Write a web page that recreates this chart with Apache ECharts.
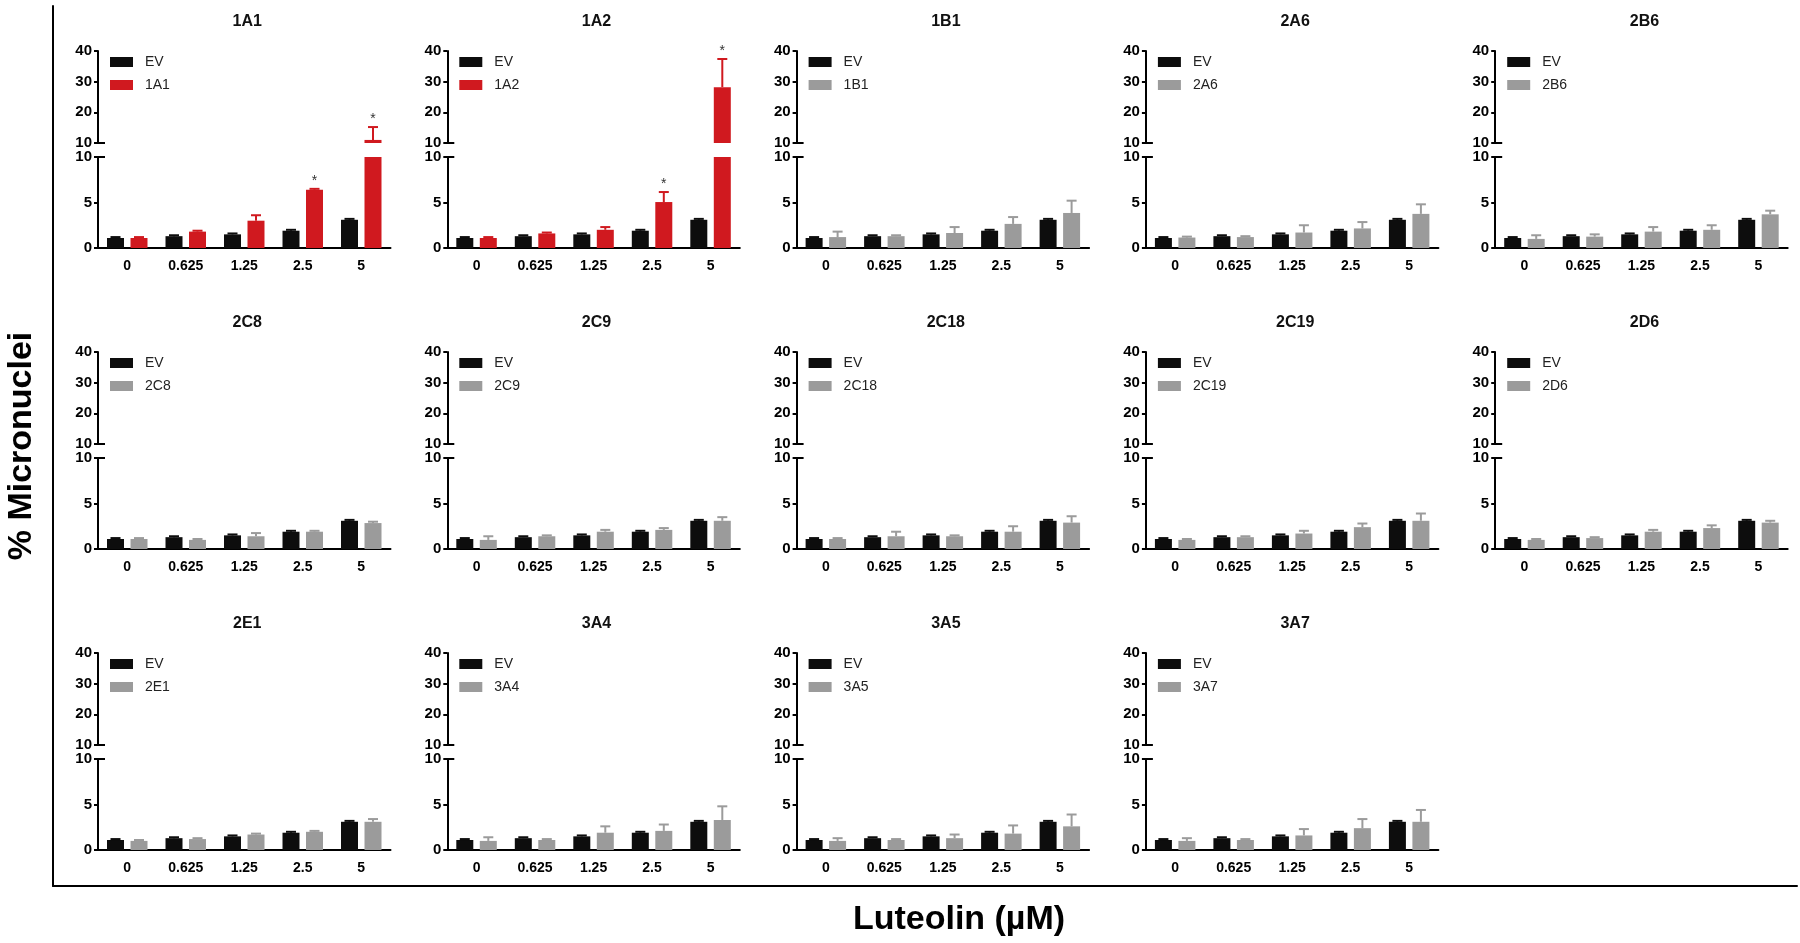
<!DOCTYPE html>
<html><head><meta charset="utf-8">
<script src="https://cdn.jsdelivr.net/npm/echarts@6/dist/echarts.min.js"></script>
<style>html,body{margin:0;padding:0;background:#fff;}#c{width:1800px;height:943px;}</style>
</head><body><div id="c"></div>
<script>
// ---------------- data ----------------
const doses = ['0', '0.625', '1.25', '2.5', '5'];
const isoforms = ['1A1','1A2','1B1','2A6','2B6','2C8','2C9','2C18','2C19','2D6','2E1','3A4','3A5','3A7'];
const lowerTicks = [0, 5, 10];
const upperTicks = [10, 20, 30, 40];

const evMean = [1.1, 1.3, 1.5, 1.9, 3.1];
const evTop  = [1.2, 1.4, 1.6, 2.0, 3.2];

const mean1A1 = [1.1, 1.8, 3.0, 6.4, 11.0];  const top1A1 = [1.2, 1.9, 3.6, 6.5, 15.2];
const mean1A2 = [1.1, 1.6, 2.0, 5.05, 28.2]; const top1A2 = [1.2, 1.7, 2.3, 6.15, 37.4];
const mean1B1 = [1.2, 1.3, 1.65, 2.65, 3.85]; const top1B1 = [1.8, 1.4, 2.3, 3.4, 5.2];
const mean2A6 = [1.15, 1.2, 1.7, 2.15, 3.75]; const top2A6 = [1.25, 1.3, 2.5, 2.85, 4.8];
const mean2B6 = [1.0, 1.25, 1.8, 2.0, 3.7];  const top2B6 = [1.4, 1.5, 2.3, 2.5, 4.1];
const mean2C8 = [1.1, 1.0, 1.4, 1.9, 2.85];  const top2C8 = [1.2, 1.1, 1.75, 2.0, 3.0];
const mean2C9 = [1.0, 1.4, 1.9, 2.1, 3.1];   const top2C9 = [1.4, 1.5, 2.1, 2.3, 3.5];
const mean2C18 = [1.1, 1.4, 1.4, 1.9, 2.9];  const top2C18 = [1.2, 1.9, 1.5, 2.5, 3.6];
const mean2C19 = [1.0, 1.3, 1.7, 2.4, 3.1];  const top2C19 = [1.1, 1.4, 2.0, 2.8, 3.9];
const mean2D6 = [1.0, 1.2, 1.9, 2.3, 2.9];   const top2D6 = [1.1, 1.3, 2.1, 2.6, 3.1];
const mean2E1 = [1.0, 1.2, 1.7, 2.0, 3.1];   const top2E1 = [1.1, 1.3, 1.8, 2.1, 3.4];
const mean3A4 = [1.0, 1.1, 1.9, 2.1, 3.3];   const top3A4 = [1.4, 1.2, 2.6, 2.8, 4.8];
const mean3A5 = [1.0, 1.1, 1.3, 1.8, 2.6];   const top3A5 = [1.3, 1.2, 1.7, 2.7, 3.9];
const mean3A7 = [1.0, 1.1, 1.6, 2.4, 3.1];   const top3A7 = [1.3, 1.2, 2.3, 3.4, 4.4];

const sig1A1 = [0, 0, 0, 1, 1];
const sig1A2 = [0, 0, 0, 1, 1];
const noSig  = [0, 0, 0, 0, 0];

// ---------------- assembly ----------------
const treat = {
  '1A1': [mean1A1, top1A1, sig1A1], '1A2': [mean1A2, top1A2, sig1A2],
  '1B1': [mean1B1, top1B1, noSig], '2A6': [mean2A6, top2A6, noSig], '2B6': [mean2B6, top2B6, noSig],
  '2C8': [mean2C8, top2C8, noSig], '2C9': [mean2C9, top2C9, noSig], '2C18': [mean2C18, top2C18, noSig],
  '2C19': [mean2C19, top2C19, noSig], '2D6': [mean2D6, top2D6, noSig], '2E1': [mean2E1, top2E1, noSig],
  '3A4': [mean3A4, top3A4, noSig], '3A5': [mean3A5, top3A5, noSig], '3A7': [mean3A7, top3A7, noSig]
};
const RED = '#d0191f', GRAY = '#9b9b9b', BLACK = '#0d0d0d';
const FONT = 'Liberation Sans, Arial, Helvetica, sans-serif';
const BAR_W = 17, BAR_GAP_PX = 6.5, SHIFT = (BAR_W + BAR_GAP_PX) / 2;
const AX0 = 98, COL = 349.3, ROW = 301, AXW = 292.5;
const UP_TOP = 51, UP_H = 92, LO_TOP = 157, LO_H = 91, BREAK = 10;

const grid = [{ left: 53, top: 6, right: 3, bottom: 57, outerBoundsMode: 'none', containLabel: false }];
const xAxis = [{
  gridIndex: 0, type: 'value', min: 0, max: 1, position: 'bottom',
  axisLine: { show: true, onZero: false, lineStyle: { color: '#000', width: 2 } },
  axisTick: { show: false }, axisLabel: { show: false }, splitLine: { show: false }
}];
const yAxis = [{
  gridIndex: 0, type: 'value', min: 0, max: 1, position: 'left',
  axisLine: { show: true, onZero: false, lineStyle: { color: '#000', width: 2 } },
  axisTick: { show: false }, axisLabel: { show: false }, splitLine: { show: false },
  name: '% Micronuclei', nameLocation: 'middle', nameGap: 14,
  nameTextStyle: { fontSize: 34, fontWeight: 'bold', color: '#000', fontFamily: FONT }
}];
const series = [], legend = [];
const title = [{
  text: 'Luteolin (\u00b5M)', left: 959, top: 903, textAlign: 'center', padding: 0,
  textStyle: { fontSize: 34, fontWeight: 'bold', color: '#000', fontFamily: FONT }
}];

function errRender(sign, color, zone) {
  return function (params, api) {
    const idx = api.value(0), mean = api.value(1), top = api.value(2), sig = api.value(3);
    const x = api.coord([idx, 0])[0] + sign * SHIFT;
    let y0, y1;
    if (zone === 'lower') {
      if (mean > BREAK) return null;
      y0 = api.coord([idx, mean])[1]; y1 = api.coord([idx, Math.min(top, BREAK)])[1];
    } else {
      if (top <= BREAK) return null;
      y0 = api.coord([idx, Math.max(mean, BREAK)])[1]; y1 = api.coord([idx, top])[1];
    }
    const st = { stroke: color, lineWidth: 2 };
    const children = [
      { type: 'line', shape: { x1: x, y1: y0, x2: x, y2: y1 }, style: st },
      { type: 'line', shape: { x1: x - 5, y1: y1, x2: x + 5, y2: y1 }, style: st }
    ];
    if (sig && (zone === 'upper' || top <= BREAK)) {
      children.push({ type: 'text', style: { text: '*', x: x, y: y1 - 8, align: 'center', verticalAlign: 'middle',
        fontSize: 14, fontFamily: FONT, fill: '#333' } });
    }
    return { type: 'group', children: children };
  };
}

isoforms.forEach(function (iso, i) {
  const col = i % 5, row = Math.floor(i / 5);
  const left = AX0 + col * COL, dy = row * ROW;
  const color = (iso === '1A1' || iso === '1A2') ? RED : GRAY;
  const [mean, top, sig] = treat[iso];
  const gu = grid.length, gl = gu + 1;
  grid.push({ left: left, top: UP_TOP + dy, width: AXW, height: UP_H, outerBoundsMode: 'none', containLabel: false });
  grid.push({ left: left, top: LO_TOP + dy, width: AXW, height: LO_H, outerBoundsMode: 'none', containLabel: false });
  const xu = xAxis.length, xl = xu + 1;
  xAxis.push({ gridIndex: gu, type: 'category', data: doses, show: false });
  xAxis.push({
    gridIndex: gl, type: 'category', data: doses,
    axisLine: { lineStyle: { color: '#000', width: 2 } },
    axisTick: { alignWithLabel: true, length: 4, lineStyle: { color: '#000', width: 1.5 } },
    axisLabel: { color: '#000', fontSize: 14, fontWeight: 'bold', fontFamily: FONT, margin: 11 }
  });
  const yu = yAxis.length, yl = yu + 2;
  const yCommon = {
    type: 'value', splitLine: { show: false },
    axisLine: { show: true, lineStyle: { color: '#000', width: 2 } },
    axisTick: { show: true, length: 4, lineStyle: { color: '#000', width: 2 } },
    axisLabel: { color: '#000', fontSize: 15, fontWeight: 'bold', fontFamily: FONT, margin: 6 }
  };
  yAxis.push(Object.assign({}, yCommon, { gridIndex: gu, position: 'left', min: upperTicks[0], max: upperTicks[upperTicks.length - 1], interval: upperTicks[1] - upperTicks[0] }));
  yAxis.push({ gridIndex: gu, type: 'value', position: 'left', min: upperTicks[0], max: upperTicks[upperTicks.length - 1],
    axisLine: { show: false }, axisLabel: { show: false }, splitLine: { show: false },
    axisTick: { show: true, inside: true, length: 7, customValues: [BREAK], lineStyle: { color: '#000', width: 2 } } });
  yAxis.push(Object.assign({}, yCommon, { gridIndex: gl, position: 'left', min: lowerTicks[0], max: lowerTicks[lowerTicks.length - 1], interval: lowerTicks[1] - lowerTicks[0] }));
  yAxis.push({ gridIndex: gl, type: 'value', position: 'left', min: lowerTicks[0], max: lowerTicks[lowerTicks.length - 1],
    axisLine: { show: false }, axisLabel: { show: false }, splitLine: { show: false },
    axisTick: { show: true, inside: true, length: 7, customValues: [BREAK], lineStyle: { color: '#000', width: 2 } } });

  const barBase = { type: 'bar', barWidth: BAR_W, barGap: (BAR_GAP_PX / BAR_W * 100).toFixed(1) + '%', clip: true, silent: true };
  series.push(Object.assign({}, barBase, { name: 'EV', xAxisIndex: xl, yAxisIndex: yl, data: evMean, itemStyle: { color: BLACK } }));
  series.push(Object.assign({}, barBase, { name: iso, xAxisIndex: xl, yAxisIndex: yl, data: mean, itemStyle: { color: color } }));
  series.push(Object.assign({}, barBase, { name: 'EV', xAxisIndex: xu, yAxisIndex: yu, data: evMean.map(v => v > BREAK ? v : '-'), itemStyle: { color: BLACK } }));
  series.push(Object.assign({}, barBase, { name: iso, xAxisIndex: xu, yAxisIndex: yu, data: mean.map(v => v > BREAK ? v : '-'), itemStyle: { color: color } }));
  const evData = doses.map((d, j) => [j, evMean[j], evTop[j], 0]);
  const trData = doses.map((d, j) => [j, mean[j], top[j], sig[j]]);
  series.push({ type: 'custom', name: 'err', xAxisIndex: xl, yAxisIndex: yl, data: evData, renderItem: errRender(-1, BLACK, 'lower'), clip: false, silent: true, z: 3 });
  series.push({ type: 'custom', name: 'err', xAxisIndex: xl, yAxisIndex: yl, data: trData, renderItem: errRender(1, color, 'lower'), clip: false, silent: true, z: 3 });
  series.push({ type: 'custom', name: 'err', xAxisIndex: xu, yAxisIndex: yu, data: trData, renderItem: errRender(1, color, 'upper'), clip: false, silent: true, z: 3 });

  legend.push({
    data: ['EV', iso], left: left + 12, top: 55 + dy, orient: 'vertical', padding: 0,
    itemWidth: 23, itemHeight: 10, itemGap: 9, icon: 'rect', selectedMode: false,
    textStyle: { fontSize: 14, lineHeight: 14, color: '#222', fontFamily: FONT, padding: [0, 0, 0, 7] }
  });
  title.push({
    text: iso, left: left + AXW / 2 + 3, top: 14 + dy, textAlign: 'center', padding: 0,
    textStyle: { fontSize: 16, fontWeight: 'bold', color: '#111', fontFamily: FONT }
  });
});

const chart = echarts.init(document.getElementById('c'), null, { renderer: 'canvas' });
chart.setOption({
  backgroundColor: '#fff', animation: false, textStyle: { fontFamily: FONT },
  grid: grid, xAxis: xAxis, yAxis: yAxis, series: series, legend: legend, title: title, tooltip: { show: false }
});
</script></body></html>
